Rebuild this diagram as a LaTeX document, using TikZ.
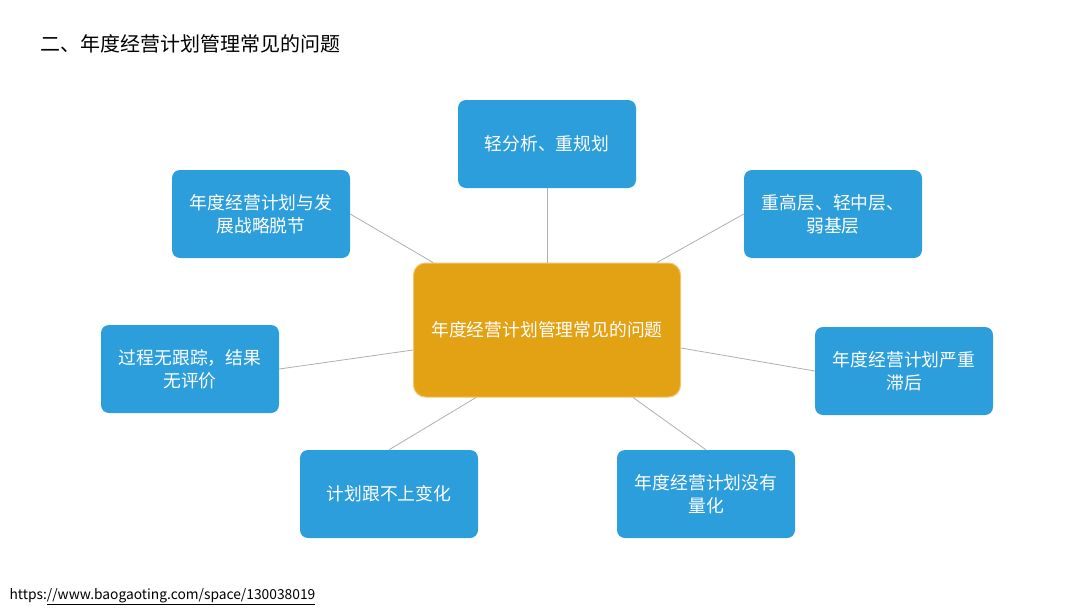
\documentclass[tikz,border=0pt]{standalone}
\usepackage{fontspec}
\setmainfont{Noto Sans CJK SC}
\usetikzlibrary{calc}
\definecolor{boxblue}{RGB}{45,158,220}
\definecolor{boxorange}{RGB}{227,161,20}
\definecolor{linkgray}{RGB}{175,175,175}
\tikzset{
  sat/.style={fill=boxblue, rounded corners=8pt, minimum width=178pt, minimum height=88pt,
    text=white, font=\fontsize{17.8}{23}\selectfont, align=center, inner sep=0pt},
  hub/.style={fill=boxorange, draw=boxorange!60!white, line width=1pt, rounded corners=12pt,
    minimum width=267pt, minimum height=134pt, text=white, font=\fontsize{17.8}{23}\selectfont, inner sep=0pt},
  link/.style={draw=linkgray, line width=0.8pt}
}
\begin{document}
\begin{tikzpicture}[x=1pt,y=1pt]
\useasboundingbox (0,0) rectangle (1080,-608);
\node[anchor=west, font=\fontsize{20}{24}\selectfont] (title) at (37,-44) {二、年度经营计划管理常见的问题};
\node[anchor=west, font=\fontsize{13.8}{16}\selectfont] (url) at (6,-597) {https:\underline{//www.baogaoting.com/space/130038019}};

\node[hub] (c) at (547,-330) {年度经营计划管理常见的问题};
\node[sat] (t) at (547,-144) {轻分析、重规划};
\node[sat] (ul) at (261,-214) {年度经营计划与发\\展战略脱节};
\node[sat] (ur) at (833,-214) {重高层、轻中层、\\弱基层};
\node[sat] (ml) at (190,-369) {过程无跟踪，结果\\无评价};
\node[sat] (mr) at (904,-371) {年度经营计划严重\\滞后};
\node[sat] (bl) at (389,-494) {计划跟不上变化};
\node[sat] (br) at (706,-494) {年度经营计划没有\\量化};

\coordinate (cul) at ($(c.north)+(-114,0)$);
\coordinate (cur) at ($(c.north)+(110,0)$);
\coordinate (cml) at ($(c.west)+(0,-20)$);
\coordinate (cmr) at ($(c.east)+(0,-18)$);
\coordinate (cbl) at ($(c.south)+(-71,0)$);
\coordinate (cbr) at ($(c.south)+(86,0)$);

\draw[link] (t.south) -- (c.north);
\draw[link] (ul.east) -- (cul);
\draw[link] (ur.west) -- (cur);
\draw[link] (ml.east) -- (cml);
\draw[link] (mr.west) -- (cmr);
\draw[link] (bl.north) -- (cbl);
\draw[link] (br.north) -- (cbr);
\end{tikzpicture}
\end{document}
